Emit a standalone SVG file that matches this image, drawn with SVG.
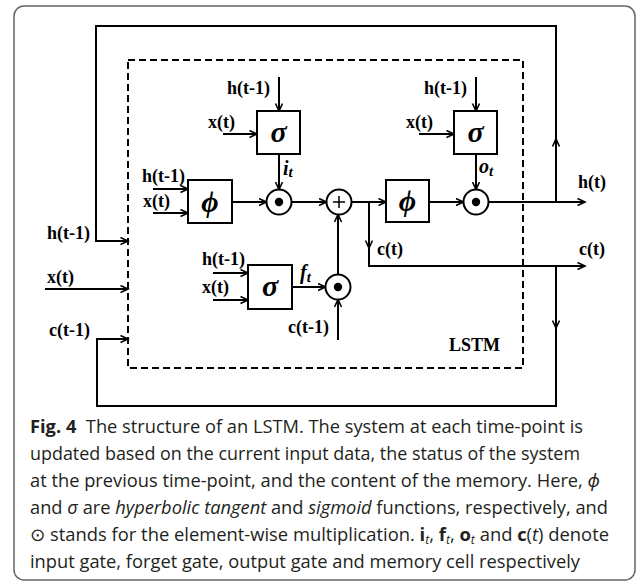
<svg xmlns="http://www.w3.org/2000/svg" width="637" height="583" viewBox="0 0 637 583">
<defs>
<marker id="ah" markerWidth="10" markerHeight="10" refX="8" refY="4" orient="auto" markerUnits="userSpaceOnUse">
<path d="M0.5,0.5 L8,4 L0.5,7.5" fill="none" stroke="#000" stroke-width="1.6"/>
</marker>
</defs>
<style>
.ln{fill:none;stroke:#000;stroke-width:2}
.ar{fill:none;stroke:#000;stroke-width:2;marker-end:url(#ah)}
.box{fill:#fff;stroke:#000;stroke-width:2}
.lb{font-family:"Liberation Serif","Times New Roman",serif;font-weight:bold;font-size:18px;fill:#000}
.gk{font-family:"Liberation Serif","DejaVu Serif",serif;font-weight:bold;font-style:italic;font-size:30px;fill:#000}
.gt{font-family:"Liberation Serif","DejaVu Serif",serif;font-weight:bold;font-style:italic;fill:#000}
.cap{font-family:"Open Sans","Noto Sans",sans-serif;font-size:18px;fill:#231f20}
</style>
<rect id="frame" x="14" y="6" width="621" height="574" rx="10" fill="#fff" stroke="#666" stroke-width="1.5"/>

<g id="lstm">
<rect x="128" y="60" width="395" height="308" fill="none" stroke="#000" stroke-width="2" stroke-dasharray="7 4"/>
<text class="lb" x="449" y="351">LSTM</text>
</g>

<g id="connectors">
<line class="ar" x1="223" y1="134" x2="257" y2="134"/>
<line class="ar" x1="279" y1="77" x2="279" y2="111"/>
<line class="ar" x1="279" y1="154" x2="279" y2="189.5"/>
<line class="ar" x1="153" y1="189" x2="188" y2="189"/>
<line class="ar" x1="153" y1="213" x2="188" y2="213"/>
<line class="ar" x1="232" y1="202" x2="266.5" y2="202"/>
<line class="ar" x1="291.5" y1="202" x2="326.5" y2="202"/>
<line class="ar" x1="351.5" y1="202" x2="386" y2="202"/>
<line class="ar" x1="369" y1="202" x2="369" y2="248"/>
<path class="ar" d="M369,247 V266 H585"/>
<line class="ar" x1="429" y1="202" x2="463.5" y2="202"/>
<line class="ar" x1="476" y1="77" x2="476" y2="111"/>
<line class="ar" x1="419" y1="134" x2="454" y2="134"/>
<line class="ar" x1="476" y1="154" x2="476" y2="189.5"/>
<line class="ar" x1="488.5" y1="202" x2="585" y2="202"/>
<line class="ar" x1="213" y1="273" x2="248" y2="273"/>
<line class="ar" x1="213" y1="300" x2="248" y2="300"/>
<line class="ar" x1="292" y1="287" x2="325.5" y2="287"/>
<line class="ar" x1="338" y1="340" x2="338" y2="299.5"/>
<line class="ar" x1="338" y1="274.5" x2="338" y2="214.5"/>
<line class="ar" x1="556" y1="202" x2="556" y2="139"/>
<path class="ar" d="M556,141 V26 H96 V241 H128"/>
<line class="ar" x1="45" y1="289" x2="128" y2="289"/>
<line class="ar" x1="556" y1="266" x2="556" y2="328"/>
<path class="ar" d="M556,326 V406 H97 V339 H128"/>
</g>

<g id="sigma_i">
<rect class="box" x="257" y="111" width="43" height="43"/>
<text class="gk" x="278.5" y="142" text-anchor="middle" font-size="25">σ</text>
</g>
<g id="sigma_o">
<rect class="box" x="454" y="111" width="43" height="43"/>
<text class="gk" x="475.5" y="142" text-anchor="middle" font-size="25">σ</text>
</g>
<g id="sigma_f">
<rect class="box" x="248" y="265" width="44" height="44"/>
<text class="gk" x="270" y="296" text-anchor="middle" font-size="25">σ</text>
</g>
<g id="phi_g">
<rect class="box" x="188" y="180" width="44" height="43"/>
<text class="gk" x="210" y="212" text-anchor="middle">ϕ</text>
</g>
<g id="phi_c">
<rect class="box" x="386" y="180" width="43" height="42"/>
<text class="gk" x="407.5" y="211" text-anchor="middle">ϕ</text>
</g>
<g id="odot_i">
<circle cx="279" cy="202" r="12.5" fill="#fff" stroke="#000" stroke-width="2"/>
<circle cx="279" cy="202" r="4.2" fill="#000"/>
</g>
<g id="odot_o">
<circle cx="476" cy="202" r="12.5" fill="#fff" stroke="#000" stroke-width="2"/>
<circle cx="476" cy="202" r="4.2" fill="#000"/>
</g>
<g id="odot_f">
<circle cx="338" cy="287" r="12.5" fill="#fff" stroke="#000" stroke-width="2"/>
<circle cx="338" cy="287" r="4.2" fill="#000"/>
</g>
<g id="plus">
<circle cx="339" cy="202" r="12.5" fill="#fff" stroke="#000" stroke-width="2"/>
<path d="M333,202 H345 M339,196 V208" stroke="#000" stroke-width="1.5"/>
</g>

<g id="labels">
<text class="lb" x="227" y="94">h(t-1)</text>
<text class="lb" x="208" y="128">x(t)</text>
<text class="lb" x="424" y="94">h(t-1)</text>
<text class="lb" x="406" y="128">x(t)</text>
<text class="lb" x="142" y="182">h(t-1)</text>
<text class="lb" x="143" y="207">x(t)</text>
<text class="lb" x="202" y="265">h(t-1)</text>
<text class="lb" x="202" y="293">x(t)</text>
<text class="lb" x="288" y="333">c(t-1)</text>
<text class="lb" x="377" y="255">c(t)</text>
<text class="lb" x="578" y="188">h(t)</text>
<text class="lb" x="579" y="255">c(t)</text>
<text class="lb" x="47" y="239">h(t-1)</text>
<text class="lb" x="47" y="283">x(t)</text>
<text class="lb" x="49" y="336">c(t-1)</text>
<text class="gt" x="283" y="175" font-size="20">i<tspan font-size="15" dy="2">t</tspan></text>
<text class="gt" x="479" y="173" font-size="20">o<tspan font-size="15" dy="3">t</tspan></text>
<text class="gt" x="300" y="279" font-size="20">f<tspan font-size="15" dy="3">t</tspan></text>
</g>

<g id="caption" class="cap">
<text x="30" y="433" textLength="553" lengthAdjust="spacingAndGlyphs"><tspan font-weight="bold">Fig. 4</tspan>&#160;&#160;The structure of an LSTM. The system at each time-point is</text>
<text x="30" y="460" textLength="550" lengthAdjust="spacingAndGlyphs">updated based on the current input data, the status of the system</text>
<text x="30" y="487" textLength="570" lengthAdjust="spacingAndGlyphs">at the previous time-point, and the content of the memory. Here, <tspan font-style="italic">ϕ</tspan></text>
<text x="30" y="514" textLength="578" lengthAdjust="spacingAndGlyphs">and <tspan font-style="italic">σ</tspan> are <tspan font-style="italic">hyperbolic tangent</tspan> and <tspan font-style="italic">sigmoid</tspan> functions, respectively, and</text>
<text x="30" y="541" textLength="579" lengthAdjust="spacingAndGlyphs">⊙ stands for the element-wise multiplication. <tspan font-weight="bold">i</tspan><tspan font-style="italic" font-size="12" dy="3">t</tspan><tspan dy="-3">, </tspan><tspan font-weight="bold">f</tspan><tspan font-style="italic" font-size="12" dy="3">t</tspan><tspan dy="-3">, </tspan><tspan font-weight="bold">o</tspan><tspan font-style="italic" font-size="12" dy="3">t</tspan><tspan dy="-3"> and </tspan><tspan font-weight="bold">c</tspan>(<tspan font-style="italic">t</tspan>) denote</text>
<text x="30" y="568" textLength="550" lengthAdjust="spacingAndGlyphs">input gate, forget gate, output gate and memory cell respectively</text>
</g>
</svg>
